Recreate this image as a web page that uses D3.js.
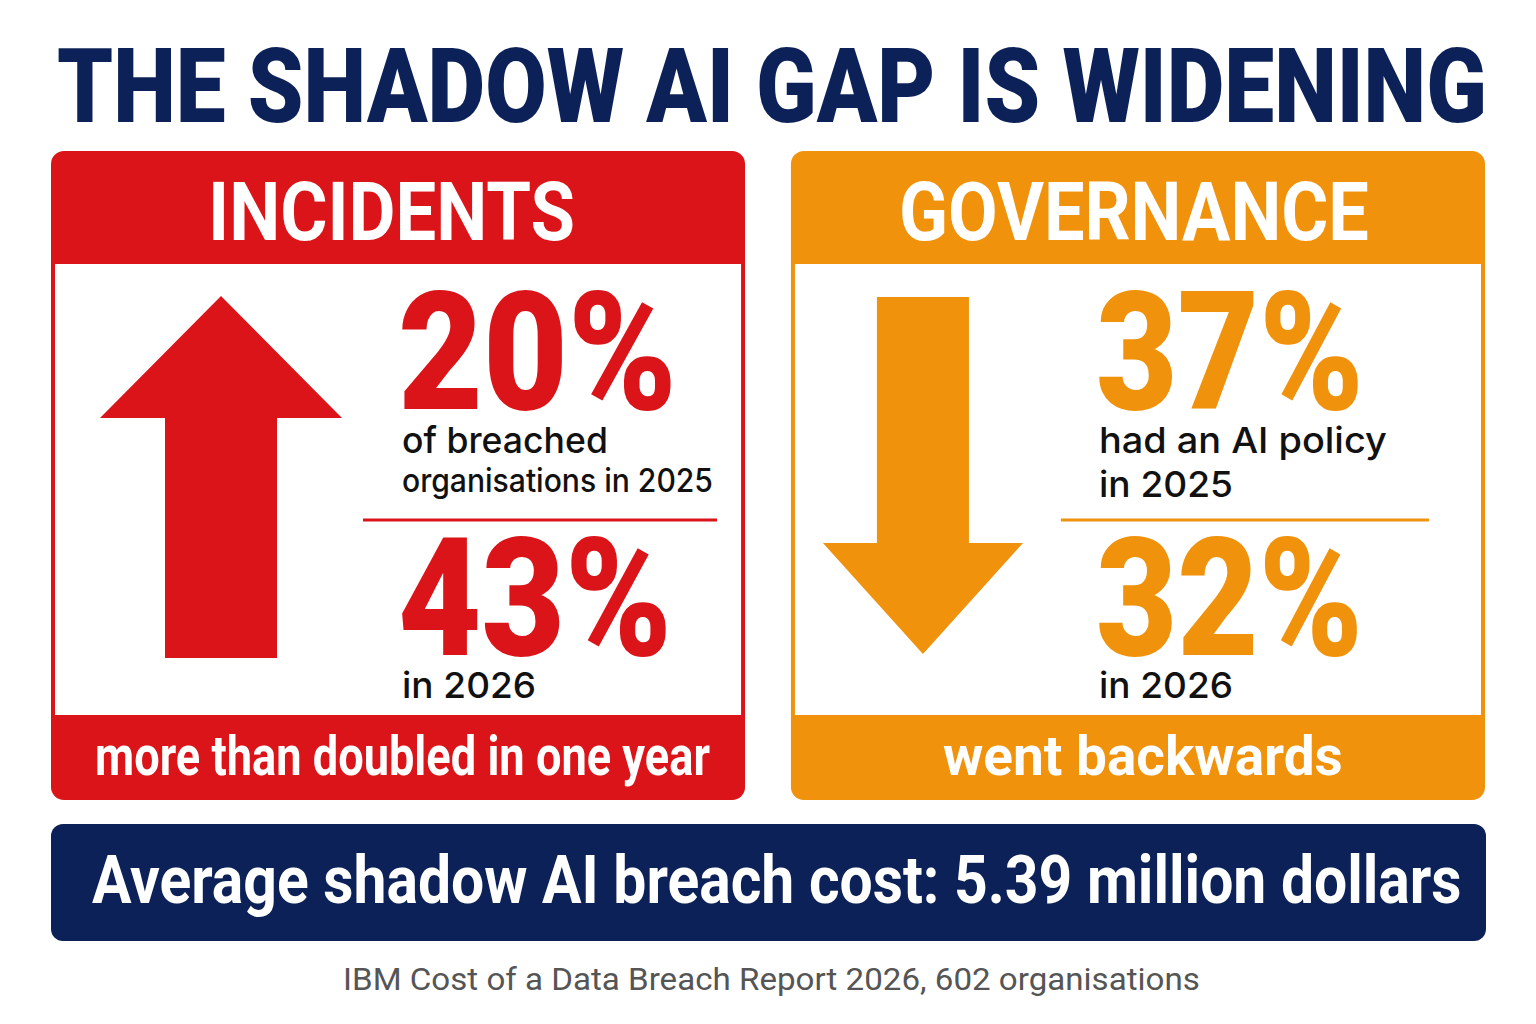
<!DOCTYPE html>
<html>
<head>
<meta charset="utf-8">
<script src="https://cdn.jsdelivr.net/npm/d3@7"></script>
<style>
  html, body { margin: 0; padding: 0; background: #ffffff; }
  svg { display: block; }
</style>
</head>
<body>
<svg id="canvas"></svg>
<script>
(function (d3) {

    const WIDTH = 1536;
    const HEIGHT = 1024;

    // data
    const title = "THE SHADOW AI GAP IS WIDENING";
    const panelTitles = ["INCIDENTS", "GOVERNANCE"];
    const values2025 = [20, 37];
    const values2026 = [43, 32];
    const labels2025 = [["of breached", "organisations in 2025"], ["had an AI policy", "in 2025"]];
    const labels2026 = ["in 2026", "in 2026"];
    const directions = ["up", "down"];
    const footers = ["more than doubled in one year", "went backwards"];
    const panelColors = ["#da1419", "#f0920b"];
    const costLabel = "Average shadow AI breach cost: 5.39 million dollars";
    const source = "IBM Cost of a Data Breach Report 2026, 602 organisations";

    const NAVY = "#0c2157";
    const HEAVY = "Roboto, 'Liberation Sans', sans-serif";
    const BODY = "Inter, 'Open Sans', sans-serif";

    let svg = d3.select('#canvas').attr('width', WIDTH).attr('height', HEIGHT);

    // place a text at (x, y) and scale it horizontally to an exact width
    function fitAt(el, x, y, w) {
        let t = d3.select(el).attr('x', 0).attr('y', 0);
        let natural = el.getComputedTextLength();
        t.attr('transform', `translate(${x},${y}) scale(${w / natural},1)`);
    }

    function addText(parent, str, opts) {
        let t = parent.append('text')
            .attr('font-family', opts.family).attr('font-weight', opts.weight)
            .attr('font-size', opts.size).attr('fill', opts.fill)
            .text(str);
        fitAt(t.node(), opts.x, opts.y, opts.w);
        return t;
    }

    addText(svg, title, { family: HEAVY, weight: 900, size: 104, fill: NAVY, x: 57, y: 122, w: 1430 });

    let x = d3.scaleBand().domain(panelTitles).range([51, 1485]).paddingInner(0.062);
    let panelW = x.bandwidth();

    let panels = panelTitles.map((t, i) => ({
        title: t, v1: values2025[i], v2: values2026[i],
        lab1: labels2025[i], lab2: labels2026[i],
        dir: directions[i], footer: footers[i], color: panelColors[i]
    }));

    // layout per panel (local coordinates)
    const arrowSpec = {
        up:   { cx: 170, shaft: 56, head: 121, top: 296, neck: 418, bottom: 658 },
        down: { cx: 132, shaft: 46, head: 100, top: 297, neck: 543, bottom: 654 }
    };
    const layout = [
        { numX: 347, numW: [279, 274], labX: 351, labW: [206, 311], labY: [453, 492], labSize: [36, 32],
          rule: [312, 666], headX: 157, headW: 367, footX: 44, footW: 615 },
        { numX: 305, numW: [268, 267], labX: 308, labW: [288, 134], labY: [453, 497], labSize: [36, 36],
          rule: [270, 638], headX: 108, headW: 470, footX: 152, footW: 400 }
    ];

    let line = d3.line();

    let g = svg.selectAll('g.panel').data(panels).join('g')
        .attr('class', 'panel')
        .attr('transform', d => `translate(${x(d.title)},0)`);

    g.each(function (d, i) {
        let p = d3.select(this);
        let L = layout[i];

        p.append('rect')
            .attr('x', 0).attr('y', 151).attr('width', panelW).attr('height', 649)
            .attr('rx', 13).attr('fill', d.color);

        p.append('rect')
            .attr('x', 4).attr('y', 264).attr('width', panelW - 8).attr('height', 451)
            .attr('fill', '#ffffff');

        addText(p, d.title, { family: HEAVY, weight: 700, size: 82, fill: '#ffffff', x: L.headX, y: 240, w: L.headW });

        let a = arrowSpec[d.dir];
        let pts;
        if (d.dir === 'up') {
            pts = [[a.cx, a.top], [a.cx + a.head, a.neck], [a.cx + a.shaft, a.neck],
                   [a.cx + a.shaft, a.bottom], [a.cx - a.shaft, a.bottom],
                   [a.cx - a.shaft, a.neck], [a.cx - a.head, a.neck]];
        } else {
            pts = [[a.cx - a.shaft, a.top], [a.cx + a.shaft, a.top], [a.cx + a.shaft, a.neck],
                   [a.cx + a.head, a.neck], [a.cx, a.bottom], [a.cx - a.head, a.neck],
                   [a.cx - a.shaft, a.neck]];
        }
        p.append('path').attr('fill', d.color).attr('d', line(pts) + 'Z');

        // big numbers
        addText(p, d.v1 + '%', { family: HEAVY, weight: 900, size: 165, fill: d.color, x: L.numX, y: 409, w: L.numW[0] });
        addText(p, d.v2 + '%', { family: HEAVY, weight: 900, size: 165, fill: d.color, x: L.numX, y: 655, w: L.numW[1] });

        // small labels
        d.lab1.forEach((s, k) => {
            addText(p, s, { family: BODY, weight: 500, size: L.labSize[k], fill: '#111111',
                            x: L.labX, y: L.labY[k], w: L.labW[k] });
        });
        addText(p, d.lab2, { family: BODY, weight: 500, size: 36, fill: '#111111', x: L.labX, y: 698, w: 134 });

        p.append('line')
            .attr('x1', L.rule[0]).attr('x2', L.rule[1])
            .attr('y1', 520).attr('y2', 520)
            .attr('stroke', d.color).attr('stroke-width', 3);

        addText(p, d.footer, { family: HEAVY, weight: 700, size: 56, fill: '#ffffff', x: L.footX, y: 775, w: L.footW });
    });

    // cost banner
    svg.append('rect')
        .attr('x', 51).attr('y', 824).attr('width', 1435).attr('height', 117)
        .attr('rx', 12).attr('fill', NAVY);

    addText(svg, costLabel, { family: HEAVY, weight: 700, size: 66, fill: '#ffffff', x: 92, y: 903, w: 1370 });

    addText(svg, source, { family: HEAVY, weight: 400, size: 31, fill: '#555555', x: 343, y: 990, w: 857 });

})(d3)
</script>
</body>
</html>
